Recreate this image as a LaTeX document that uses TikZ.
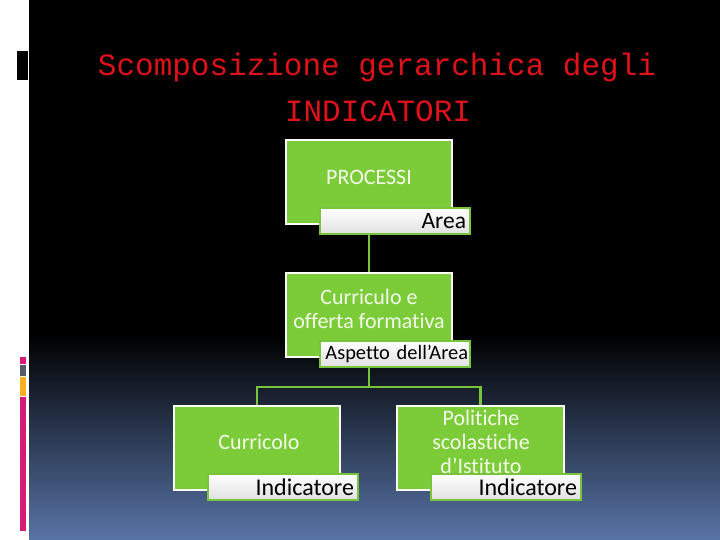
\documentclass[tikz,border=0pt]{standalone}
\usepackage{fontspec}
\newfontfamily\titlefont{Liberation Mono}
\newfontfamily\boxfont[Ligatures=NoCommon]{Carlito}
\definecolor{boxgreen}{RGB}{124,204,58}
\definecolor{linegreen}{RGB}{120,196,60}
\definecolor{titlered}{RGB}{222,18,24}
\definecolor{boxtext}{RGB}{244,250,234}
\definecolor{barpink}{RGB}{214,26,120}
\definecolor{bargrey}{RGB}{84,92,104}
\definecolor{barorange}{RGB}{246,176,32}
\definecolor{bgblue}{RGB}{88,116,166}
\begin{document}
\begin{tikzpicture}[x=1pt,y=-1pt,
  gbox/.style={draw=white, line width=2pt, fill=boxgreen, inner sep=0pt,
    minimum width=166pt, minimum height=84pt},
  btext/.style={text=boxtext, font=\boxfont\fontsize{22}{24}\selectfont, align=center, inner sep=0pt},
  lbox/.style={draw=linegreen, line width=2.5pt, top color=white, bottom color=black!12,
    inner xsep=4pt, inner ysep=0pt, minimum height=26pt, text width=142pt, align=right,
    font=\boxfont\fontsize{24}{26}\selectfont, text=black},
  conn/.style={draw=linegreen, line width=2.5pt}]
\useasboundingbox (0,0) rectangle (720,540);
% background
\fill[white] (0,0) rectangle (720,540);
\fill[black] (29,0) rectangle (720,336);
\shade[top color=black, bottom color=bgblue] (29,335) rectangle (720,540);
% side marks
\fill[black] (17,51) rectangle (28,80);
\fill[barpink] (20,357) rectangle (26,364);
\fill[bargrey] (20,365) rectangle (26,376);
\fill[barorange] (20,377) rectangle (26,396);
\fill[barpink] (20,397) rectangle (26,531);
% title
\node[anchor=base, text=titlered, font=\titlefont\fontsize{31}{36}\selectfont, inner sep=0pt] (t1) at (377,76) {Scomposizione gerarchica degli};
\node[anchor=base, text=titlered, font=\titlefont\fontsize{31}{36}\selectfont, inner sep=0pt] (t2) at (378,122) {INDICATORI};
% boxes
\node[gbox] (b1) at (369,182) {};
\node[gbox] (b2) at (369,315) {};
\node[gbox] (b3) at (257,448) {};
\node[gbox, minimum width=167pt] (b4) at (480.5,448) {};
% connectors
\coordinate (fork) at (369,387);
\draw[conn] (b2.south) -- (fork);
\draw[conn] (fork) -| (b3.north);
\draw[conn] (fork) -| (b4.north);
\draw[conn] (b1.south) -- (b2.north);
% box texts
\node[btext] (tx1) at (369,177) {PROCESSI};
\node[btext] (tx2) at (369,309) {Curriculo e\\offerta formativa};
\node[btext] (tx3) at (259,442) {Curricolo};
\node[btext] (tx4) at (481,442) {Politiche\\scolastiche\\d’Istituto};
% labels
\node[lbox, font=\boxfont\fontsize{23.5}{26}\selectfont] (l1) at (395,221) {Area};
\node[lbox, inner xsep=2pt, text width=146pt, font=\boxfont\fontsize{20.4}{22}\selectfont] (l2) at (395,354) {Aspetto dell’Area};
\node[lbox] (l3) at (283,487) {Indicatore};
\node[lbox] (l4) at (506,487) {Indicatore};
\end{tikzpicture}
\end{document}
